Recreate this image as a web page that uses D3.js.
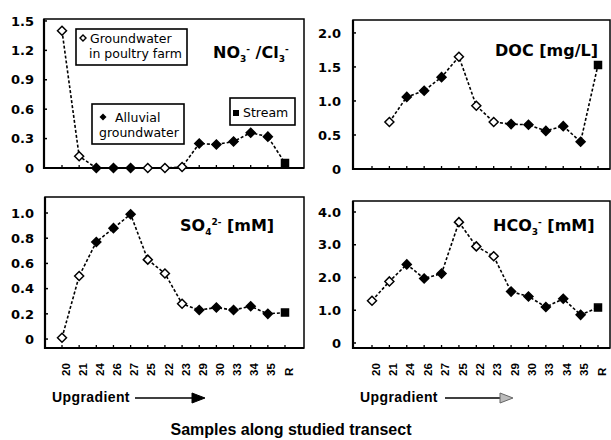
<!DOCTYPE html>
<html>
<head>
<meta charset="utf-8">
<script src="https://cdn.jsdelivr.net/npm/d3@7"></script>
<style>
  body { margin: 0; background: #fff; }
  text { fill: #000; }
  .tick-label { font-family: "DejaVu Sans", sans-serif; font-weight: bold; font-size: 13px; }
  .x-label { font-family: "Liberation Sans", Arial, sans-serif; font-weight: bold; font-size: 11.5px; }
  .panel-title { font-family: "DejaVu Sans", sans-serif; font-weight: bold; font-size: 16px; }
  .legend-text { font-family: "DejaVu Sans", sans-serif; font-size: 12.5px; }
  .caption { font-family: "Liberation Sans", Arial, sans-serif; font-weight: bold; }
</style>
</head>
<body>
<div id="chart"></div>
<script>
const dimensions = { width: 611, height: 440 };

// data
const samples = ['20', '21', '24', '26', '27', '25', '22', '23', '29', '30', '33', '34', '35', 'R'];
// farm = groundwater in poultry farm, alluvial = alluvial groundwater, stream
const sampleType = ['farm', 'farm', 'alluvial', 'alluvial', 'alluvial', 'farm', 'farm', 'farm',
    'alluvial', 'alluvial', 'alluvial', 'alluvial', 'alluvial', 'stream'];

const no3Cl = [1.40, 0.12, 0, 0, 0, 0, 0, 0.01, 0.25, 0.24, 0.27, 0.36, 0.32, 0.05];
const doc = [null, 0.69, 1.06, 1.15, 1.35, 1.65, 0.93, 0.69, 0.66, 0.65, 0.56, 0.63, 0.40, 1.53];
const so4 = [0.01, 0.50, 0.77, 0.88, 0.99, 0.63, 0.52, 0.28, 0.23, 0.25, 0.23, 0.26, 0.20, 0.21];
const hco3 = [1.29, 1.88, 2.40, 1.97, 2.12, 3.69, 2.95, 2.65, 1.57, 1.42, 1.10, 1.35, 0.86, 1.08];

const no3Ticks = [0, 0.3, 0.6, 0.9, 1.2, 1.5];
const docTicks = [0, 0.5, 1.0, 1.5, 2.0];
const so4Ticks = [0, 0.2, 0.4, 0.6, 0.8, 1.0];
const hco3Ticks = [0, 1, 2, 3, 4];

const svg = d3.select('#chart')
    .append('svg')
    .attr('width', dimensions.width)
    .attr('height', dimensions.height);

const fmt = d => d === 0 ? '0' : d3.format('.1f')(d);

const panels = [
    { values: no3Cl, ticks: no3Ticks, box: { x: 44, y: 19, w: 260, h: 149 },
      yDomain: [0, 1.52], xRange: [62, 285], labelX: 34, xLabels: false },
    { values: doc, ticks: docTicks, box: { x: 353, y: 20, w: 257, h: 149 },
      yDomain: [0, 2.19], xRange: [372, 598], labelX: 341, xLabels: false },
    { values: so4, ticks: so4Ticks, box: { x: 45, y: 197, w: 259, h: 151 },
      yDomain: [-0.071, 1.127], xRange: [62, 285], labelX: 34, xLabels: true },
    { values: hco3, ticks: hco3Ticks, box: { x: 353, y: 201, w: 257, h: 147 },
      yDomain: [-0.153, 4.336], xRange: [372, 598], labelX: 341, xLabels: true }
];

const diamond = r => `M0,${-r}L${r},0L0,${r}L${-r},0Z`;

const drawPanel = (p) => {
    const b = p.box;
    const x = d3.scalePoint().domain(samples).range(p.xRange);
    const y = d3.scaleLinear().domain(p.yDomain).range([b.y + b.h, b.y]);
    const g = svg.append('g');

    g.append('rect')
        .attr('x', b.x).attr('y', b.y).attr('width', b.w).attr('height', b.h)
        .attr('fill', 'none').attr('stroke', '#000').attr('stroke-width', 1.5);

    // left & bottom axes a bit heavier
    g.append('path')
        .attr('d', `M${b.x},${b.y}V${b.y + b.h}H${b.x + b.w}`)
        .attr('fill', 'none').attr('stroke', '#000').attr('stroke-width', 2.2);

    // y ticks
    g.selectAll('.ytick').data(p.ticks).enter()
        .append('line')
        .attr('x1', b.x).attr('x2', b.x + 3)
        .attr('y1', d => y(d)).attr('y2', d => y(d))
        .attr('stroke', '#000').attr('stroke-width', 1.5);

    g.selectAll('.ylabel').data(p.ticks).enter()
        .append('text')
        .attr('class', 'tick-label')
        .attr('x', p.labelX)
        .attr('y', d => y(d))
        .attr('dy', '0.36em')
        .attr('text-anchor', 'end')
        .text(fmt);

    // x ticks
    g.selectAll('.xtick').data(samples).enter()
        .append('line')
        .attr('x1', d => x(d)).attr('x2', d => x(d))
        .attr('y1', b.y + b.h).attr('y2', b.y + b.h - 3)
        .attr('stroke', '#000').attr('stroke-width', 1.3);

    if (p.xLabels) {
        g.selectAll('.xlabel').data(samples).enter()
            .append('text')
            .attr('class', 'x-label')
            .attr('transform', d => `translate(${x(d) + 3.5}, 376) rotate(-90)`)
            .attr('dy', '0.36em')
            .text(d => d);
    }

    const pts = samples.map((s, i) => ({ s, v: p.values[i], t: sampleType[i] }))
        .filter(d => d.v !== null);

    const line = d3.line().x(d => x(d.s)).y(d => y(d.v));
    g.append('path')
        .datum(pts)
        .attr('d', line)
        .attr('fill', 'none')
        .attr('stroke', '#000')
        .attr('stroke-width', 1.6)
        .attr('stroke-dasharray', '3,2');

    g.selectAll('.pt').data(pts).enter()
        .append('path')
        .attr('transform', d => `translate(${x(d.s)}, ${y(d.v)})`)
        .attr('d', d => d.t === 'stream' ? 'M-3.5,-3.5h7v7h-7Z' : diamond(4.5))
        .attr('fill', d => d.t === 'farm' ? '#fff' : '#000')
        .attr('stroke', '#000')
        .attr('stroke-width', 1.5);
};

panels.forEach(drawPanel);

// panel titles
const title = (xPos, yPos, parts) => {
    const t = svg.append('text').attr('class', 'panel-title').attr('x', xPos).attr('y', yPos);
    parts.forEach(p => {
        const s = t.append('tspan').text(p.text);
        if (p.small) s.attr('font-size', '9px');
        if (p.dy) s.attr('dy', p.dy);
    });
};

title(213, 58, [{ text: 'NO' }, { text: '3', small: true, dy: 4 }, { text: '-', small: true, dy: -10 },
    { text: ' /Cl', dy: 6 }, { text: '3', small: true, dy: 4 }, { text: '-', small: true, dy: -10 }]);
title(495, 56, [{ text: 'DOC [mg/L]' }]);
title(180, 231, [{ text: 'SO' }, { text: '4', small: true, dy: 4 }, { text: '2-', small: true, dy: -10 },
    { text: ' [mM]', dy: 6 }]);
title(493, 231, [{ text: 'HCO' }, { text: '3', small: true, dy: 4 }, { text: '-', small: true, dy: -10 },
    { text: ' [mM]', dy: 6 }]);

// legend boxes in first panel
const legendBox = (bx, by, bw, bh) => svg.append('rect')
    .attr('x', bx).attr('y', by).attr('width', bw).attr('height', bh)
    .attr('fill', '#fff').attr('stroke', '#000').attr('stroke-width', 1.6);

legendBox(76, 29, 111, 36);
svg.append('path').attr('transform', 'translate(83, 38)').attr('d', diamond(3))
    .attr('fill', '#fff').attr('stroke', '#000').attr('stroke-width', 1.4);
svg.append('text').attr('class', 'legend-text').attr('x', 90).attr('y', 42.5).text('Groundwater');
svg.append('text').attr('class', 'legend-text').attr('x', 89).attr('y', 57.5).text('in poultry farm');

legendBox(92, 104, 92, 40);
svg.append('path').attr('transform', 'translate(103, 117)').attr('d', diamond(3.5))
    .attr('fill', '#000');
svg.append('text').attr('class', 'legend-text').attr('x', 115).attr('y', 121.5).text('Alluvial');
svg.append('text').attr('class', 'legend-text').attr('x', 99).attr('y', 137).text('groundwater');

legendBox(230, 98, 65, 27);
svg.append('rect').attr('x', 233).attr('y', 110).attr('width', 6).attr('height', 6).attr('fill', '#000');
svg.append('text').attr('class', 'legend-text').attr('x', 243).attr('y', 117).attr('font-size', '13px').text('Stream');

// upgradient arrows
const arrow = (tx, lx1, lx2, filled) => {
    svg.append('text').attr('class', 'caption').attr('x', tx).attr('y', 402)
        .attr('font-size', '14px').attr('letter-spacing', '0.4px').text('Upgradient');
    svg.append('line').attr('x1', lx1).attr('x2', lx2 - 10).attr('y1', 398).attr('y2', 398)
        .attr('stroke', '#000').attr('stroke-width', 1.6);
    svg.append('path').attr('d', `M${lx2 - 13},393L${lx2},398L${lx2 - 13},403Z`)
        .attr('fill', filled ? '#000' : '#bbb').attr('stroke', filled ? '#000' : '#666').attr('stroke-width', 1);
};
arrow(52, 135, 205, true);
arrow(360, 445, 513, false);

svg.append('text').attr('class', 'caption')
    .attr('x', 291).attr('y', 435)
    .attr('text-anchor', 'middle')
    .attr('font-size', '16px')
    .text('Samples along studied transect');
</script>
</body>
</html>
